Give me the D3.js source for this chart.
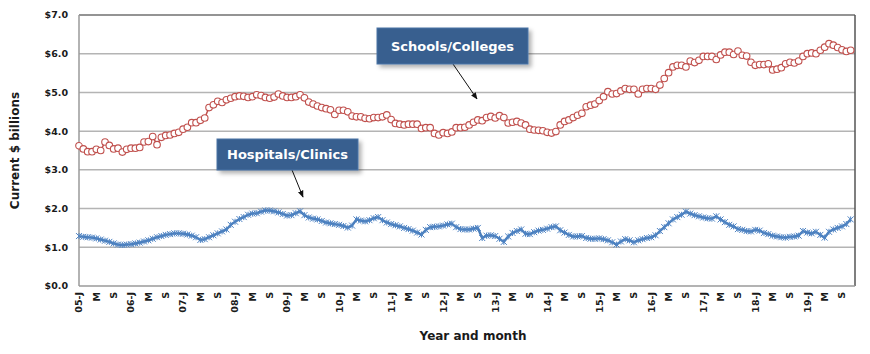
<!DOCTYPE html>
<html lang="en">
<head>
  <meta charset="UTF-8" />
  <title>Construction spending: schools and hospitals</title>
  <script src="https://d3js.org/d3.v7.min.js"></script>
  <style>
    body {
      margin: 0;
      background-color: #ffffff;
    }

    svg text {
      font-family: 'DejaVu Sans', sans-serif;
      fill: #1a1a1a;
    }

    .tick-label {
      font-size: 9.5px;
      font-weight: bold;
    }

    .axis-title {
      font-size: 12px;
      font-weight: bold;
    }

    .callout-text {
      font-size: 13px;
      font-weight: bold;
      fill: #ffffff !important;
    }
  </style>
</head>
<body>

  <div id="chart"></div>

  <script>
    // monthly values, Jan 2005 .. Nov 2019, $ billions
    const schools = [
      3.62, 3.54, 3.47, 3.47, 3.53, 3.50, 3.72, 3.63, 3.54, 3.56, 3.46, 3.53,
      3.56, 3.56, 3.58, 3.72, 3.73, 3.86, 3.65, 3.84, 3.89, 3.90, 3.94, 3.97,
      4.05, 4.10, 4.22, 4.22, 4.28, 4.34, 4.61, 4.68, 4.77, 4.74, 4.81, 4.85,
      4.89, 4.91, 4.90, 4.87, 4.89, 4.94, 4.92, 4.87, 4.85, 4.88, 4.96, 4.91,
      4.87, 4.87, 4.89, 4.94, 4.86, 4.75, 4.70, 4.65, 4.61, 4.58, 4.55, 4.43,
      4.54, 4.54, 4.50, 4.39, 4.37, 4.37, 4.33, 4.32, 4.35, 4.35, 4.37, 4.42,
      4.30, 4.20, 4.18, 4.16, 4.18, 4.18, 4.18, 4.07, 4.09, 4.09, 3.94, 3.90,
      3.96, 3.94, 3.98, 4.09, 4.09, 4.10, 4.16, 4.23, 4.29, 4.27, 4.35, 4.38,
      4.34, 4.40, 4.35, 4.21, 4.23, 4.25, 4.21, 4.16, 4.05, 4.03, 4.02, 4.01,
      3.97, 3.95, 3.99, 4.16, 4.25, 4.29, 4.35, 4.41, 4.46, 4.63, 4.67, 4.70,
      4.79, 4.89, 5.02, 4.96, 4.97, 5.04, 5.10, 5.08, 5.08, 4.96, 5.08, 5.10,
      5.10, 5.08, 5.19, 5.36, 5.51, 5.66, 5.70, 5.70, 5.66, 5.81, 5.77, 5.83,
      5.93, 5.93, 5.93, 5.85, 5.97, 6.04, 6.04, 5.98, 6.07, 5.96, 5.94, 5.78,
      5.70, 5.72, 5.72, 5.74, 5.58, 5.60, 5.64, 5.74, 5.78, 5.76, 5.81, 5.93,
      6.00, 6.02, 6.00, 6.09, 6.17, 6.26, 6.22, 6.16, 6.10, 6.06, 6.09
    ];

    const hospitals = [
      1.29, 1.27, 1.26, 1.25, 1.23, 1.20, 1.17, 1.14, 1.10, 1.07, 1.06, 1.07,
      1.08, 1.10, 1.12, 1.15, 1.18, 1.22, 1.26, 1.29, 1.32, 1.34, 1.36, 1.36,
      1.35, 1.33, 1.30, 1.26, 1.19, 1.21, 1.26, 1.31, 1.36, 1.41, 1.46, 1.58,
      1.66, 1.73, 1.78, 1.84, 1.87, 1.88, 1.92, 1.95, 1.95, 1.93, 1.90, 1.86,
      1.82, 1.83, 1.88, 1.93, 1.83, 1.77, 1.74, 1.72, 1.68, 1.64, 1.62, 1.60,
      1.58, 1.55, 1.51, 1.56, 1.72, 1.69, 1.67, 1.70, 1.75, 1.78, 1.70, 1.64,
      1.60, 1.57, 1.54, 1.50, 1.47, 1.43, 1.38, 1.33, 1.45, 1.52, 1.53, 1.54,
      1.56, 1.59, 1.61, 1.52, 1.47, 1.46, 1.46, 1.48, 1.50, 1.24, 1.30, 1.31,
      1.29, 1.22, 1.14, 1.28, 1.37, 1.42, 1.46, 1.35, 1.34, 1.39, 1.43, 1.45,
      1.48, 1.52, 1.54, 1.44, 1.38, 1.32, 1.28, 1.28, 1.29, 1.24, 1.22, 1.22,
      1.23, 1.21, 1.18, 1.13, 1.07, 1.15, 1.21, 1.18, 1.13, 1.18, 1.21, 1.24,
      1.26, 1.31, 1.42, 1.52, 1.62, 1.72, 1.78, 1.84, 1.92, 1.87, 1.83, 1.80,
      1.77, 1.75, 1.74, 1.80, 1.72, 1.65, 1.58, 1.54, 1.47, 1.45, 1.42, 1.41,
      1.45, 1.43, 1.37, 1.34, 1.30, 1.28, 1.26, 1.25, 1.27, 1.28, 1.30, 1.42,
      1.38, 1.36, 1.40, 1.32, 1.25, 1.40, 1.46, 1.50, 1.54, 1.60, 1.72
    ];

    // one label every 4 months (J, M, S)
    const tickLabels = [
      "05-J", "M", "S", "06-J", "M", "S", "07-J", "M", "S", "08-J", "M", "S",
      "09-J", "M", "S", "10-J", "M", "S", "11-J", "M", "S", "12-J", "M", "S",
      "13-J", "M", "S", "14-J", "M", "S", "15-J", "M", "S", "16-J", "M", "S",
      "17-J", "M", "S", "18-J", "M", "S", "19-J", "M", "S"
    ];

    const yTicks = [0, 1, 2, 3, 4, 5, 6, 7];

    function drawChart() {
      const svgWidth = 870;
      const svgHeight = 354;
      const margin = { top: 15, right: 15, bottom: 68, left: 79 };
      const width = svgWidth - margin.left - margin.right;
      const height = svgHeight - margin.top - margin.bottom;

      const svg = d3.select("#chart")
        .append("svg")
        .attr("width", svgWidth)
        .attr("height", svgHeight);

      const defs = svg.append("defs");
      const shadow = defs.append("filter")
        .attr("id", "shadow")
        .attr("x", "-20%").attr("y", "-30%")
        .attr("width", "150%").attr("height", "180%");
      shadow.append("feDropShadow")
        .attr("dx", 3).attr("dy", 3)
        .attr("stdDeviation", 2)
        .attr("flood-color", "#000")
        .attr("flood-opacity", 0.3);

      const g = svg.append("g")
        .attr("transform", `translate(${margin.left},${margin.top})`);

      // 180 monthly slots, Jan 2005 .. Dec 2019
      const x = d3.scaleLinear().domain([0, 179]).range([0, width]);
      const y = d3.scaleLinear().domain([0, 7]).range([height, 0]);

      // gridlines
      g.selectAll(".grid")
        .data(yTicks.slice(1, -1))
        .enter()
        .append("line")
        .attr("x1", 0).attr("x2", width)
        .attr("y1", d => y(d)).attr("y2", d => y(d))
        .attr("stroke", "#b4b4b4")
        .attr("stroke-width", 1.5);

      // frame: dark top/right, gray axes
      g.append("line")
        .attr("x1", 0).attr("x2", width).attr("y1", y(7)).attr("y2", y(7))
        .attr("stroke", "#2a2a2a").attr("stroke-width", 1.2);
      g.append("line")
        .attr("x1", width).attr("x2", width).attr("y1", y(7)).attr("y2", y(0))
        .attr("stroke", "#555").attr("stroke-width", 1.5);
      g.append("line")
        .attr("x1", 0).attr("x2", width).attr("y1", y(0)).attr("y2", y(0))
        .attr("stroke", "#9a9a9a").attr("stroke-width", 1.5);
      g.append("line")
        .attr("x1", 0).attr("x2", 0).attr("y1", y(7)).attr("y2", y(0))
        .attr("stroke", "#9a9a9a").attr("stroke-width", 1.5);

      // y labels
      g.selectAll(".ylab")
        .data(yTicks)
        .enter()
        .append("text")
        .attr("class", "tick-label")
        .attr("x", -11)
        .attr("y", d => y(d))
        .attr("dy", "0.36em")
        .attr("text-anchor", "end")
        .text(d => "$" + d.toFixed(1));

      // x labels, rotated
      g.selectAll(".xlab")
        .data(tickLabels)
        .enter()
        .append("text")
        .attr("class", "tick-label")
        .attr("text-anchor", "end")
        .attr("transform", (d, i) => `translate(${x(i * 4) + 3.4},${height + 6}) rotate(-90)`)
        .text(d => d);

      g.append("text")
        .attr("class", "axis-title")
        .attr("text-anchor", "middle")
        .attr("transform", `translate(${-60},${height / 2}) rotate(-90)`)
        .text("Current $ billions");

      g.append("text")
        .attr("class", "axis-title")
        .attr("text-anchor", "middle")
        .attr("x", 394)
        .attr("y", 325)
        .text("Year and month");

      plotSchools(g, x, y);
      plotHospitals(g, x, y);
      addCallouts(svg);
    }

    function plotSchools(g, x, y) {
      const line = d3.line()
        .x((d, i) => x(i))
        .y(d => y(d));

      g.append("path")
        .datum(schools)
        .attr("fill", "none")
        .attr("stroke", "#c0504d")
        .attr("stroke-width", 1.5)
        .attr("d", line);

      g.selectAll(".school-pt")
        .data(schools)
        .enter()
        .append("circle")
        .attr("cx", (d, i) => x(i))
        .attr("cy", d => y(d))
        .attr("r", 3.3)
        .attr("fill", "#ffffff")
        .attr("stroke", "#c0504d")
        .attr("stroke-width", 1.1);
    }

    function plotHospitals(g, x, y) {
      const line = d3.line()
        .x((d, i) => x(i))
        .y(d => y(d));

      g.append("path")
        .datum(hospitals)
        .attr("fill", "none")
        .attr("stroke", "#4a7ebb")
        .attr("stroke-width", 2.4)
        .attr("d", line);

      const s = 3;
      g.selectAll(".hosp-pt")
        .data(hospitals)
        .enter()
        .append("path")
        .attr("transform", (d, i) => `translate(${x(i)},${y(d)})`)
        .attr("d", `M${-s},${-s}L${s},${s}M${-s},${s}L${s},${-s}M0,${-s}L0,${s}`)
        .attr("fill", "none")
        .attr("stroke", "#4f84c4")
        .attr("stroke-width", 1);
    }

    function addCallouts(svg) {
      const callouts = [
        { label: "Schools/Colleges", box: [377, 28, 151, 36], arrow: [453, 64, 477, 99] },
        { label: "Hospitals/Clinics", box: [217, 139, 141, 31], arrow: [292, 170, 303, 197] }
      ];

      defsArrow(svg);

      callouts.forEach(c => {
        svg.append("line")
          .attr("x1", c.arrow[0]).attr("y1", c.arrow[1])
          .attr("x2", c.arrow[2]).attr("y2", c.arrow[3])
          .attr("stroke", "#111")
          .attr("stroke-width", 1)
          .attr("marker-end", "url(#arrowhead)");

        svg.append("rect")
          .attr("x", c.box[0]).attr("y", c.box[1])
          .attr("width", c.box[2]).attr("height", c.box[3])
          .attr("fill", "#375f8f")
          .attr("stroke", "#4a74a6")
          .attr("stroke-width", 1)
          .attr("filter", "url(#shadow)");

        svg.append("text")
          .attr("class", "callout-text")
          .attr("x", c.box[0] + c.box[2] / 2)
          .attr("y", c.box[1] + c.box[3] / 2)
          .attr("dy", "0.36em")
          .attr("text-anchor", "middle")
          .text(c.label);
      });
    }

    function defsArrow(svg) {
      svg.select("defs").append("marker")
        .attr("id", "arrowhead")
        .attr("viewBox", "0 0 10 10")
        .attr("refX", 9).attr("refY", 5)
        .attr("markerWidth", 7).attr("markerHeight", 7)
        .attr("orient", "auto")
        .append("path")
        .attr("d", "M0,1L10,5L0,9Z")
        .attr("fill", "#111");
    }

    drawChart();
  </script>

</body>
</html>
